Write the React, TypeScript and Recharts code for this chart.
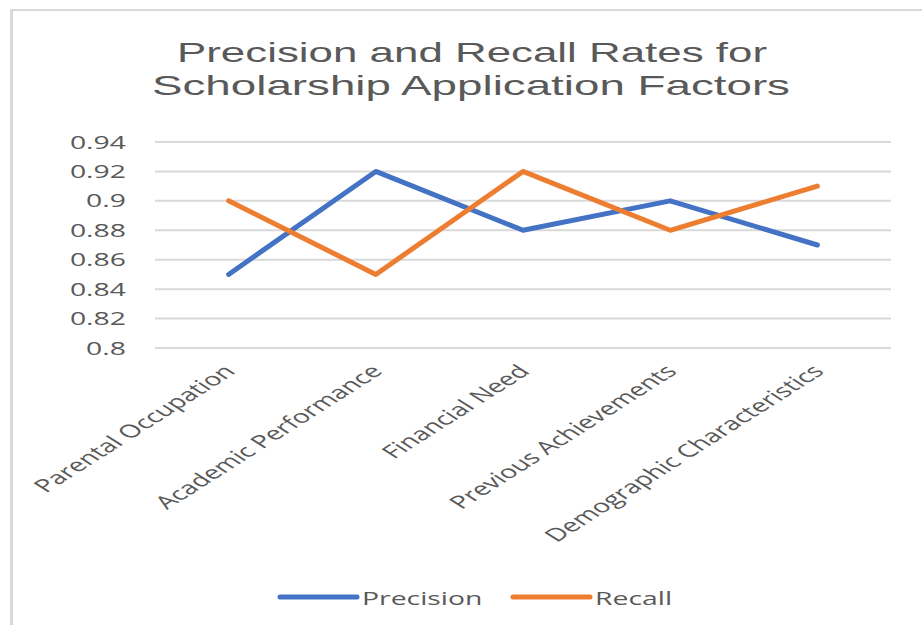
import React from 'react';
import { LineChart, Line, XAxis, YAxis, CartesianGrid, Legend } from 'recharts';

const categories = [
  'Parental Occupation',
  'Academic Performance',
  'Financial Need',
  'Previous Achievements',
  'Demographic Characteristics',
];
const precision = [0.85, 0.92, 0.88, 0.9, 0.87];
const recall = [0.9, 0.85, 0.92, 0.88, 0.91];
const yTicks = [0.8, 0.82, 0.84, 0.86, 0.88, 0.9, 0.92, 0.94];
const titleLines = ['Precision and Recall Rates for', 'Scholarship Application Factors'];

const data = categories.map((c, i) => ({ name: c, Precision: precision[i], Recall: recall[i] }));

const SX = 1.576;
const FONT = "'Open Sans', sans-serif";
const TITLE_FONT = "'Liberation Sans', Arial, sans-serif";
const TEXT = '#595959';
const BLUE = '#4472C4';
const ORANGE = '#ED7D31';

const YTick = (props: any) => {
  const { x, y, payload } = props;
  return (
    <text
      transform={`translate(${x},${y + 6.5}) scale(${SX},1)`}
      textAnchor="end"
      fontSize={18}
      fontFamily={FONT}
      fill={TEXT}
    >
      {String(payload.value)}
    </text>
  );
};

const XTick = (props: any) => {
  const { x, y, payload } = props;
  return (
    <text
      transform={`translate(${x + 1},${y}) scale(${SX},1) rotate(-45)`}
      textAnchor="end"
      dy="0.35em"
      fontSize={18}
      fontFamily={FONT}
      fill={TEXT}
    >
      {payload.value}
    </text>
  );
};

const LegendContent = (props: any) => {
  const { payload } = props;
  return (
    <svg width={922} height={30} style={{ display: 'block' }}>
      {(payload || []).map((item: any, i: number) => {
        const x0 = 280 + i * 233;
        return (
          <g key={item.value}>
            <line x1={x0} y1={15} x2={x0 + 77} y2={15} stroke={item.color} strokeWidth={5} strokeLinecap="round" />
            <text
              transform={`translate(${x0 + 82},23) scale(${SX},1)`}
              fontSize={18}
              fontFamily={FONT}
              fill={TEXT}
            >
              {item.value}
            </text>
          </g>
        );
      })}
    </svg>
  );
};

export default function App() {
  return (
    <div style={{ position: 'absolute', left: 0, top: 0, width: 922, height: 625, background: '#fff', overflow: 'hidden' }}>
      <div
        style={{
          position: 'absolute',
          left: 10,
          top: 9,
          width: 912,
          height: 616,
          borderTop: '2px solid #d9d9d9',
          borderLeft: '3px solid #d9d9d9',
          boxSizing: 'border-box',
        }}
      />
      <LineChart width={922} height={625} data={data} margin={{ top: 142, right: 31, left: 0, bottom: 13 }}>
        <CartesianGrid vertical={false} stroke="#d9d9d9" strokeWidth={2} />
        <XAxis
          dataKey="name"
          height={234}
          axisLine={false}
          tickLine={false}
          tickSize={0}
          tickMargin={20}
          interval={0}
          padding={{ left: 73.6, right: 73.6 }}
          tick={<XTick />}
        />
        <YAxis
          width={155}
          domain={[0.8, 0.94]}
          ticks={yTicks}
          axisLine={false}
          tickLine={false}
          tickSize={0}
          tickMargin={29}
          tick={<YTick />}
        />
        <Legend
          content={<LegendContent />}
          wrapperStyle={{ position: 'absolute', top: 582, left: 0, width: 922, height: 30 }}
        />
        <Line type="linear" dataKey="Precision" stroke={BLUE} strokeWidth={5} strokeLinecap="round" strokeLinejoin="round" dot={false} isAnimationActive={false} />
        <Line type="linear" dataKey="Recall" stroke={ORANGE} strokeWidth={5} strokeLinecap="round" strokeLinejoin="round" dot={false} isAnimationActive={false} />
      </LineChart>
      <svg width={922} height={120} style={{ position: 'absolute', left: 0, top: 0, pointerEvents: 'none' }}>
        <text x={472} y={62} textAnchor="middle" fontSize={28} fontFamily={TITLE_FONT} fill={TEXT} textLength={590} lengthAdjust="spacingAndGlyphs">
          {titleLines[0]}
        </text>
        <text x={471} y={95} textAnchor="middle" fontSize={28} fontFamily={TITLE_FONT} fill={TEXT} textLength={638} lengthAdjust="spacingAndGlyphs">
          {titleLines[1]}
        </text>
      </svg>
    </div>
  );
}
